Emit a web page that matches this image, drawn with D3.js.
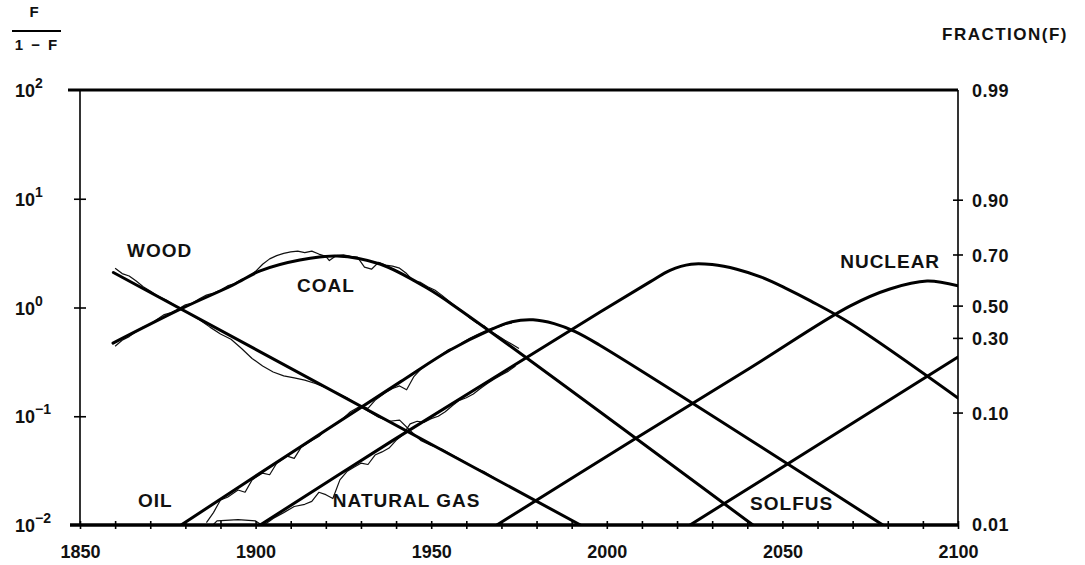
<!DOCTYPE html>
<html>
<head>
<meta charset="utf-8">
<script src="https://d3js.org/d3.v7.min.js"></script>
<style>
  body { margin: 0; background: #fff; }
  text { font-family: "Liberation Sans", Arial, sans-serif; font-weight: bold; fill: #111; }
</style>
</head>
<body>
<svg id="chart" width="1085" height="565"></svg>

<script>
// fitted substitution curves, [year, F/(1-F)]
const woodFit = [[1859.5, 2.1], [1992.5, 0.01]];
const coalFit = [[1859.4, 0.47], [1879.3, 0.99], [1893.6, 1.61], [1901.3, 2.17], [1912.6, 2.73],
                 [1923.2, 2.98], [1935.4, 2.51], [1948.8, 1.51], [1958.2, 0.95], [2041.6, 0.01]];
const oilFit = [[1878.8, 0.01], [1912.6, 0.052], [1941.1, 0.206], [1955.4, 0.407], [1966.7, 0.62],
                [1973, 0.74], [1979, 0.77], [1985, 0.71], [1991, 0.6], [1998, 0.45], [2078.6, 0.01]];
const gasFit = [[1901.3, 0.01], [1939.1, 0.06], [1969.6, 0.245], [1998.1, 0.91], [2012.3, 1.72],
                [2018, 2.2], [2024, 2.5], [2030, 2.48], [2037, 2.25], [2044, 1.9], [2051, 1.5],
                [2058, 1.15], [2069.2, 0.72], [2100, 0.147]];
const nuclearFit = [[1968.7, 0.01], [2007.5, 0.0605], [2040.8, 0.278], [2069.2, 1.03], [2080.6, 1.48],
                    [2091.2, 1.75], [2100, 1.58]];
const solfusFit = [[2023.7, 0.01], [2100, 0.35]];

// historical data (thin traces)
const woodData = [[1860, 2.3], [1862, 2.05], [1864, 1.95], [1866, 1.75], [1868, 1.55], [1870, 1.42], [1872, 1.28],
  [1875, 1.15], [1878, 1.0], [1881, 0.88], [1884, 0.77], [1887, 0.66], [1890, 0.57], [1893, 0.51], [1896, 0.42],
  [1899, 0.34], [1902, 0.29], [1905, 0.255], [1908, 0.235], [1911, 0.225], [1914, 0.215], [1917, 0.2],
  [1920, 0.183], [1923, 0.165], [1926, 0.148], [1929, 0.128], [1932, 0.112], [1935, 0.098], [1938, 0.09],
  [1941, 0.092], [1944, 0.074], [1947, 0.06], [1950, 0.054], [1953, 0.05], [1956, 0.044], [1959, 0.039],
  [1962, 0.034], [1965, 0.031], [1968, 0.027]];
const coalData = [[1860, 0.44], [1862, 0.5], [1864, 0.54], [1866, 0.6], [1868, 0.66], [1870, 0.7], [1872, 0.78],
  [1874, 0.86], [1876, 0.9], [1878, 0.97], [1880, 1.06], [1882, 1.1], [1884, 1.2], [1886, 1.3], [1888, 1.36],
  [1890, 1.45], [1892, 1.58], [1894, 1.66], [1896, 1.82], [1898, 1.92], [1900, 2.15], [1902, 2.5], [1904, 2.8],
  [1906, 3.0], [1908, 3.15], [1910, 3.25], [1912, 3.3], [1914, 3.2], [1916, 3.3], [1918, 3.1], [1920, 2.95],
  [1921, 2.7], [1923, 3.0], [1925, 3.05], [1927, 2.95], [1929, 2.9], [1931, 2.35], [1933, 2.25], [1935, 2.6],
  [1937, 2.45], [1939, 2.4], [1941, 2.3], [1943, 2.05], [1945, 1.75], [1947, 1.7], [1949, 1.55], [1951, 1.45],
  [1953, 1.3], [1955, 1.15], [1957, 1.02], [1959, 0.92], [1961, 0.8], [1963, 0.72], [1965, 0.68], [1967, 0.6],
  [1969, 0.55], [1971, 0.5], [1973, 0.46], [1975, 0.42]];
const oilData = [[1886, 0.0105], [1888, 0.013], [1890, 0.017], [1892, 0.018], [1895, 0.021], [1897, 0.02],
  [1899, 0.026], [1902, 0.03], [1904, 0.029], [1906, 0.037], [1909, 0.043], [1911, 0.041], [1913, 0.052],
  [1916, 0.06], [1918, 0.065], [1920, 0.075], [1923, 0.085], [1925, 0.096], [1927, 0.11], [1930, 0.125],
  [1932, 0.118], [1934, 0.14], [1937, 0.165], [1939, 0.18], [1941, 0.19], [1943, 0.175], [1945, 0.23],
  [1947, 0.27], [1949, 0.3], [1951, 0.33], [1953, 0.37], [1955, 0.41], [1957, 0.43], [1959, 0.48],
  [1961, 0.52], [1963, 0.56], [1965, 0.6], [1967, 0.64], [1969, 0.66], [1971, 0.7], [1973, 0.72]];
const gasData = [[1888, 0.0101], [1889, 0.0109], [1895, 0.0112], [1900, 0.0109], [1901.5, 0.0101],
  [1903, 0.0103], [1905, 0.0115], [1908, 0.013], [1911, 0.0148], [1914, 0.0155], [1916, 0.0165],
  [1918, 0.02], [1920, 0.019], [1922, 0.0175], [1924, 0.026], [1926, 0.031], [1928, 0.034], [1930, 0.037],
  [1932, 0.036], [1934, 0.044], [1936, 0.047], [1938, 0.051], [1940, 0.06], [1942, 0.068], [1944, 0.085],
  [1946, 0.09], [1948, 0.088], [1950, 0.095], [1952, 0.1], [1954, 0.11], [1956, 0.125], [1958, 0.14],
  [1960, 0.148], [1962, 0.16], [1964, 0.18], [1966, 0.2], [1968, 0.22], [1970, 0.24], [1972, 0.26], [1974, 0.29]];

// labels placed in data coordinates [text, year, value, anchor]
const seriesLabels = [["WOOD", 1863.4, 2.91, "start"], ["COAL", 1911.8, 1.39, "start"],
  ["OIL", 1866.5, 0.0145, "start"], ["NATURAL GAS", 1922.0, 0.0145, "start"],
  ["SOLFUS", 2040.8, 0.0136, "start"], ["NUCLEAR", 2094.9, 2.31, "end"]];

// axis ticks
const yearLabels = [1850, 1900, 1950, 2000, 2050, 2100];
const decadeTicks = [0.1, 1, 10];
const decadeLabels = [[100, "2"], [10, "1"], [1, "0"], [0.1, "\u22121"], [0.01, "\u22122"]];
const fractionLabels = ["0.99", "0.90", "0.70", "0.50", "0.30", "0.10", "0.01"];
const fractionTickRatio = [100, 9.7, 3.04, 1.03, 0.52, 0.107, 0.0102]; // where the ticks sit on the left scale

const svg = d3.select("#chart");
const x = d3.scaleLinear().domain([1850, 2100]).range([80, 958]);
const y = d3.scaleLog().domain([0.01, 100]).range([525, 90]);

svg.append("clipPath").attr("id", "plot")
  .append("rect").attr("x", 80).attr("y", 88).attr("width", 878).attr("height", 438);

const line = d3.line().x(d => x(d[0])).y(d => y(d[1]));
const smooth = d3.line().x(d => x(d[0])).y(d => y(d[1])).curve(d3.curveCatmullRom.alpha(0.5));

const plot = svg.append("g").attr("clip-path", "url(#plot)");

// thin data traces first
[woodData, coalData, oilData, gasData].forEach(s => {
  plot.append("path").attr("d", line(s))
    .attr("fill", "none").attr("stroke", "#111").attr("stroke-width", 1.2)
    .attr("stroke-linejoin", "round");
});

// thick fitted curves
[woodFit, coalFit, oilFit, gasFit, nuclearFit, solfusFit].forEach(s => {
  plot.append("path").attr("d", smooth(s))
    .attr("fill", "none").attr("stroke", "#000").attr("stroke-width", 3)
    .attr("stroke-linecap", "round");
});

// frame
const frame = svg.append("g").attr("stroke", "#000").attr("fill", "none");
frame.append("line").attr("x1", 68).attr("x2", x(2100)).attr("y1", y(100)).attr("y2", y(100)).attr("stroke-width", 2.8);
frame.append("line").attr("x1", 70).attr("x2", x(2100)).attr("y1", y(0.01)).attr("y2", y(0.01)).attr("stroke-width", 3.5);
frame.append("line").attr("x1", x(1850)).attr("x2", x(1850)).attr("y1", y(100)).attr("y2", y(0.01)).attr("stroke-width", 1.6);
frame.append("line").attr("x1", x(2100)).attr("x2", x(2100)).attr("y1", y(100)).attr("y2", y(0.01)).attr("stroke-width", 1.6);

// bottom axis
const xAxis = svg.append("g").attr("transform", `translate(0,${y(0.01)})`)
  .call(d3.axisBottom(x).tickValues(d3.range(1850, 2101, 10))
    .tickFormat(d => yearLabels.includes(d) ? d : "").tickSize(4));
xAxis.select(".domain").remove();
xAxis.selectAll(".tick line").attr("y1", -4).attr("y2", 4).attr("stroke-width", 1.6);
xAxis.selectAll(".tick text").attr("y", 33).attr("dy", 0)
  .style("font-size", "18px").style("font-family", "Liberation Sans, Arial, sans-serif")
  .style("font-weight", "bold").attr("fill", "#111");

// left axis ticks
const yAxis = svg.append("g").attr("transform", `translate(${x(1850)},0)`)
  .call(d3.axisLeft(y).tickValues(decadeTicks).tickFormat("").tickSize(6));
yAxis.select(".domain").remove();
yAxis.selectAll(".tick line").attr("x1", -6).attr("x2", 6).attr("stroke-width", 1.6);

// left axis labels 10^n
decadeLabels.forEach(([v, e]) => {
  const t = svg.append("text").attr("x", 15).attr("y", y(v) + 7).style("font-size", "18px");
  t.append("tspan").text("10");
  t.append("tspan").attr("dy", -9).style("font-size", "14px").text(e);
});

// right axis: fraction
fractionTickRatio.forEach((v, i) => {
  const py = y(v);
  if (i > 0 && i < fractionTickRatio.length - 1) {
    svg.append("line").attr("x1", x(2100) - 5).attr("x2", x(2100) + 5)
      .attr("y1", py).attr("y2", py).attr("stroke", "#000").attr("stroke-width", 1.6);
  }
  svg.append("text").attr("x", 972).attr("y", py + 7)
    .style("font-size", "18px").style("letter-spacing", "0.5px").text(fractionLabels[i]);
});

// series labels
seriesLabels.forEach(([name, yr, v, anchor]) => {
  svg.append("text").attr("x", x(yr)).attr("y", y(v)).attr("text-anchor", anchor)
    .style("font-size", "19px").style("letter-spacing", "1px").text(name);
});

// axis titles
svg.append("text").attr("x", 34).attr("y", 17).attr("text-anchor", "middle")
  .style("font-size", "15px").text("F");
svg.append("line").attr("x1", 12).attr("x2", 61).attr("y1", 31).attr("y2", 31)
  .attr("stroke", "#000").attr("stroke-width", 2);
svg.append("text").attr("x", 37).attr("y", 50).attr("text-anchor", "middle")
  .style("font-size", "15px").style("letter-spacing", "2px").text("1 \u2212 F");
svg.append("text").attr("x", 942).attr("y", 40)
  .style("font-size", "17px").style("letter-spacing", "1.5px").text("FRACTION(F)");
</script>
</body>
</html>
